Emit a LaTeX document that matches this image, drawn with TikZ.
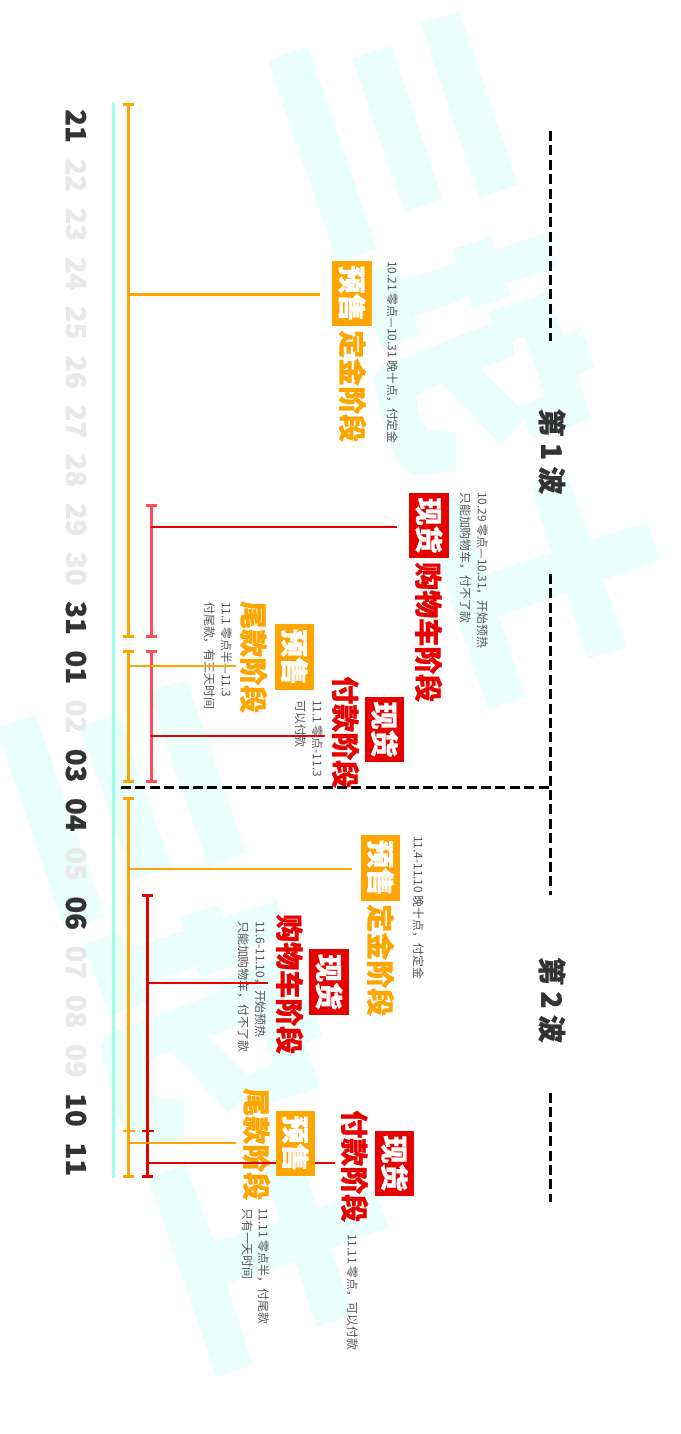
\documentclass[tikz,border=0pt]{standalone}
\usepackage{fontspec}
\usetikzlibrary{arrows.meta}
\newfontfamily\cjkreg{Noto Sans CJK SC}
\newfontfamily\cjkheavy[FakeBold=0.8]{Noto Sans CJK SC Black}
\newfontfamily\numheavy[FakeBold=0.6]{Noto Sans CJK SC Black}
\definecolor{mintbg}{HTML}{EAFFFB}
\definecolor{mintline}{HTML}{99FFE6}
\definecolor{ora}{HTML}{FFA500}
\definecolor{redd}{HTML}{E60000}
\definecolor{redl}{HTML}{FF4D5A}
\definecolor{darkt}{HTML}{333333}
\definecolor{lightt}{HTML}{E8E8E8}
\definecolor{desct}{HTML}{555555}
\tikzset{
  x=1pt,y=-1pt,
  desc/.style={rotate=-90,anchor=west,inner sep=0pt,font=\fontsize{11.9}{12}\cjkreg,text=desct,text height=10pt,text depth=1.5pt},
  bigt/.style={rotate=-90,anchor=west,inner sep=0pt,font=\fontsize{28}{28}\cjkheavy,text height=24pt,text depth=3.5pt},
  tagbox/.style={rotate=-90,inner sep=0pt,minimum width=65.5pt,minimum height=39.5pt,font=\fontsize{28}{28}\cjkheavy,text=white},
  datehi/.style={rotate=-90,inner sep=0pt,font=\fontsize{27.5}{28}\numheavy,text=darkt},
  datelo/.style={rotate=-90,inner sep=0pt,font=\fontsize{27.5}{28}\numheavy,text=lightt},
  wave/.style={rotate=-90,inner sep=0pt,font=\fontsize{28}{28}\cjkheavy,text=darkt},
  span/.style={line width=3pt,{Bar[width=11.5pt,length=2pt]}-{Bar[width=11.5pt,length=2pt]}},
  branch/.style={line width=2.6pt},
  midcap/.style={line width=2pt},
  sep/.style={black,line width=3pt,dash pattern=on 10pt off 4.4pt},
  glyph/.pic={
    \fill[mintbg] (268,60)--(308,47)--(377,249)--(337,262)--cycle;
    \fill[mintbg] (352,58)--(391,46)--(443,199)--(405,212)--cycle;
    \fill[mintbg] (420,23)--(459,12)--(518,185)--(480,198)--cycle;
    \fill[mintbg] (355,277)--(387,265)--(402,280)--(456,263)--(452,249)--(491,237)--(495,250)--(549,232)--(558,266)--(507,284)--(511,296)--(472,309)--(468,298)--(413,317)--(422,333)--(382,348)--cycle;
    \fill[mintbg,even odd rule] (487,313)--(548,292)--(563,337)--(581,327)--(594,367)--(577,377)--(592,419)--(532,439)--(524,420)--(501,445)--(442,383)--(416,395)
      .. controls (416,402) and (420,420) .. (428,430)--(456,432)--(456,471)--(420,475)
      .. controls (405,475) and (396,462) .. (390,447)--(373,383)
      .. controls (372,372) and (382,365) .. (397,360)--(492,323)--cycle
      (512,341)--(525,337)--(545,395)--(520,407)--(480,369)--(515,356)--cycle;
    \fill[mintbg] (531,487)--(567,475)--(590,540)--(647,522)--(660,560)--(603,580)--(626,647)--(588,659)--(567,593)--(499,616)--(525,697)--(488,709)--(420,509)--(457,497)--(487,574)--(552,553)--cycle;
  }
}
\begin{document}
\begin{tikzpicture}
\useasboundingbox (0,0) rectangle (680,1434);
\begin{scope}
\clip (0,0) rectangle (680,1434);
\fill[white] (0,0) rectangle (680,1434);
\pic at (0,0) {glyph};
\pic at (-272,668) {glyph};
\end{scope}

\coordinate (mt) at (113.3,103); \coordinate (mb) at (113.3,1178);
\draw[mintline,line width=3pt] (mt) -- (mb);

% dates
\node[datehi] (d21) at (76,126) {21};
\node[datelo] (d22) at (76,175.2) {22};
\node[datelo] (d23) at (76,224.4) {23};
\node[datelo] (d24) at (76,273.6) {24};
\node[datelo] (d25) at (76,322.8) {25};
\node[datelo] (d26) at (76,372) {26};
\node[datelo] (d27) at (76,421.2) {27};
\node[datelo] (d28) at (76,470.4) {28};
\node[datelo] (d29) at (76,519.6) {29};
\node[datelo] (d30) at (76,568.8) {30};
\node[datehi] (d31) at (76,618) {31};
\node[datehi] (d01) at (76,667.2) {01};
\node[datelo] (d02) at (76,716.4) {02};
\node[datehi] (d03) at (76,765.6) {03};
\node[datehi] (d04) at (76,814.8) {04};
\node[datelo] (d05) at (76,864) {05};
\node[datehi] (d06) at (76,913.2) {06};
\node[datelo] (d07) at (76,962.4) {07};
\node[datelo] (d08) at (76,1011.6) {08};
\node[datelo] (d09) at (76,1060.8) {09};
\node[datehi] (d10) at (76,1110) {10};
\node[datehi] (d11) at (76,1159.2) {11};

% descriptions
\node[desc] (t1) at (392,261) {10.21 零点—10.31 晚十点，付定金};
\node[desc] (t2a) at (482,492) {10.29 零点—10.31，开始预热};
\node[desc] (t2b) at (465,492) {只能加购物车，付不了款};
\node[desc] (t3a) at (226,602) {11.1 零点半—11.3};
\node[desc] (t3b) at (209,602) {付尾款，有三天时间};
\node[desc] (t4a) at (317,700) {11.1 零点-11.3};
\node[desc] (t4b) at (300,700) {可以付款};
\node[desc] (t5) at (418,836) {11.4-11.10 晚十点，付定金};
\node[desc] (t6a) at (260,921) {11.6-11.10，开始预热};
\node[desc] (t6b) at (243,921) {只能加购物车，付不了款};
\node[desc] (t7a) at (263,1208) {11.11 零点半，付尾款};
\node[desc] (t7b) at (247,1208) {只有一天时间};
\node[desc] (t8) at (352,1234) {11.11 零点，可以付款};

% headings
\node[bigt,text=ora] (h1) at (352,330) {定金阶段};
\node[bigt,text=redd] (h2) at (428,562) {购物车阶段};
\node[bigt,text=ora] (h3) at (253,601) {尾款阶段};
\node[bigt,text=redd] (h4) at (345,676) {付款阶段};
\node[bigt,text=ora] (h5) at (380,904) {定金阶段};
\node[bigt,text=redd] (h6) at (289,914) {购物车阶段};
\node[bigt,text=ora] (h7) at (256,1088) {尾款阶段};
\node[bigt,text=redd] (h8) at (354,1110) {付款阶段};

% orange spans
\coordinate (oa1) at (128.5,103); \coordinate (ob1) at (128.5,638);
\coordinate (oa2) at (128.5,650); \coordinate (ob2) at (128.5,783);
\coordinate (oa3) at (128.5,797); \coordinate (ob3) at (128.5,1178);
\draw[span,ora] (oa1) -- (ob1);
\draw[span,ora] (oa2) -- (ob2);
\draw[span,ora] (oa3) -- (ob3);
\coordinate (ocl) at (122.5,1131); \coordinate (ocr) at (134.5,1131);
\draw[midcap,ora] (ocl) -- (ocr);
% red spans
\coordinate (ra1) at (151.3,504); \coordinate (rb1) at (151.3,638);
\coordinate (ra2) at (151.3,650); \coordinate (rb2) at (151.3,783);
\coordinate (ra3) at (147.7,894); \coordinate (rb3) at (147.7,1178);
\draw[span,redl] (ra1) -- (rb1);
\draw[span,redl] (ra2) -- (rb2);
\draw[span,redd] (ra3) -- (rb3);
\coordinate (rcl) at (142,1131); \coordinate (rcr) at (153.5,1131);
\draw[midcap,redd] (rcl) -- (rcr);

% branches
\coordinate (b1s) at (128.5,294.5); \coordinate (b1e) at (320,294.5);
\coordinate (b2s) at (151.3,527); \coordinate (b2e) at (397,527);
\coordinate (b3s) at (128.5,666); \coordinate (b3e) at (236,666);
\coordinate (b4s) at (151.3,736); \coordinate (b4e) at (325,736);
\coordinate (b5s) at (128.5,869); \coordinate (b5e) at (352,869);
\coordinate (b6s) at (147.7,983); \coordinate (b6e) at (268,983);
\coordinate (b7s) at (128.5,1143); \coordinate (b7e) at (236,1143);
\coordinate (b8s) at (147.7,1163); \coordinate (b8e) at (335,1163);
\draw[branch,ora] (b1s) -- (b1e);
\draw[branch,ora] (b3s) -- (b3e);
\draw[branch,ora] (b5s) -- (b5e);
\draw[branch,ora] (b7s) -- (b7e);
\draw[branch,redd] (b2s) -- (b2e);
\draw[branch,redd] (b4s) -- (b4e);
\draw[branch,redd] (b6s) -- (b6e);
\draw[branch,redd] (b8s) -- (b8e);

% tags
\node[tagbox,fill=ora] (k1) at (352,293.5) {预售};
\node[tagbox,fill=redd] (k2) at (429,525.5) {现货};
\node[tagbox,fill=ora] (k3) at (294.5,657) {预售};
\node[tagbox,fill=redd] (k4) at (384.5,729.5) {现货};
\node[tagbox,fill=ora] (k5) at (380.5,868) {预售};
\node[tagbox,fill=redd] (k6) at (329,982) {现货};
\node[tagbox,fill=ora] (k7) at (295.5,1143.5) {预售};
\node[tagbox,fill=redd] (k8) at (394.5,1163.5) {现货};

% separators
\coordinate (s1) at (121,787.5); \coordinate (s2) at (550.6,787.5);
\draw[sep] (s1) -- (s2);
\coordinate (v1a) at (550.6,131); \coordinate (v1b) at (550.6,341);
\coordinate (v2a) at (550.6,574); \coordinate (v2b) at (550.6,895);
\coordinate (v3a) at (550.6,1093); \coordinate (v3b) at (550.6,1202);
\draw[sep] (v1a) -- (v1b);
\draw[sep] (v2a) -- (v2b);
\draw[sep] (v3a) -- (v3b);

\node[wave] (w1) at (552,451.5) {第 1 波};
\node[wave] (w2) at (552,1000) {第 2 波};
\end{tikzpicture}
\end{document}
